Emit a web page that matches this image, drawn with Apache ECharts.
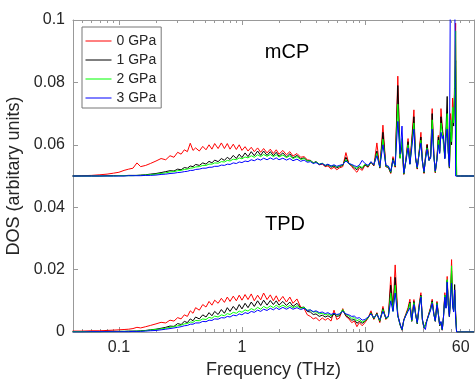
<!DOCTYPE html>
<html>
<head>
<meta charset="utf-8">
<script src="https://cdn.jsdelivr.net/npm/echarts@6.0.0/dist/echarts.min.js"></script>
<style>
html, body { margin: 0; padding: 0; background: #fff; }
#chart { width: 475px; height: 381px; }
</style>
</head>
<body>
<div id="chart"></div>
<script>
// frequency grid (THz), shared by every curve
var freq = [
  0.042, 0.05, 0.06, 0.07, 0.08, 0.09, 0.1, 0.11, 0.12, 0.13,
  0.14, 0.15, 0.165, 0.18, 0.2, 0.22, 0.24, 0.26, 0.28, 0.3,
  0.32, 0.34, 0.36, 0.38, 0.4, 0.42, 0.45, 0.48, 0.51, 0.54,
  0.57, 0.6, 0.64, 0.68, 0.72, 0.76, 0.8, 0.85, 0.9, 0.95,
  1.0, 1.06, 1.12, 1.19, 1.26, 1.34, 1.42, 1.5, 1.6, 1.7,
  1.8, 1.9, 2.0, 2.15, 2.3, 2.45, 2.6, 2.8, 3.0, 3.2,
  3.4, 3.6, 3.8, 4.0, 4.25, 4.5, 4.75, 5.0, 5.3, 5.6,
  5.9, 6.2, 6.6, 7.0, 7.4, 7.8, 8.2, 8.6, 9.0, 9.5,
  10.0, 10.6, 11.2, 11.8, 12.5, 13.2, 14.0, 14.8, 15.5, 16.2,
  16.9, 17.6, 18.5, 19.3, 20.0, 20.7, 21.5, 22.4, 23.2, 24.0,
  25.0, 25.8, 26.6, 27.6, 28.5, 29.3, 30.2, 31.0, 32.0, 33.2,
  34.2, 35.2, 36.3, 37.3, 38.5, 39.5, 40.5, 41.5, 42.5, 43.5,
  44.6, 45.6, 46.6, 47.6, 48.6, 49.6, 50.6, 51.6, 52.6, 53.6,
  54.6, 55.6, 57, 60, 65, 70, 77
];

// TPD, drawn on the 0 baseline
var tpd0 = [
  0.0003, 0.0003, 0.0004, 0.0004, 0.0005, 0.0006, 0.0007, 0.0008, 0.0009, 0.0011,
  0.0015, 0.0013, 0.0017, 0.0021, 0.0026, 0.0031, 0.0029, 0.0038, 0.0035, 0.0046,
  0.0042, 0.0055, 0.0050, 0.0068, 0.0060, 0.0078, 0.0070, 0.0088, 0.0080, 0.0098,
  0.0086, 0.0102, 0.0092, 0.0108, 0.0095, 0.0112, 0.0098, 0.0115, 0.0100, 0.0118,
  0.0102, 0.0120, 0.0104, 0.0122, 0.0100, 0.0118, 0.0103, 0.0125, 0.0104, 0.0119,
  0.0100, 0.0116, 0.0098, 0.0114, 0.0096, 0.0112, 0.0092, 0.0106, 0.0080, 0.0075,
  0.0055, 0.0050, 0.0042, 0.0046, 0.0036, 0.0045, 0.0038, 0.0044, 0.0035, 0.0070,
  0.0040, 0.0045, 0.0075, 0.0050, 0.0042, 0.0030, 0.0035, 0.0017, 0.0030, 0.0020,
  0.0030, 0.0045, 0.0068, 0.0040, 0.0062, 0.0030, 0.0082, 0.0040, 0.0050, 0.0177,
  0.0070, 0.0215, 0.0055, 0.0025, 0.0006, 0.0040, 0.0058, 0.0078, 0.0105, 0.0035,
  0.0104, 0.0060, 0.0028, 0.0090, 0.0126, 0.0040, 0.0012, 0.0006, 0.0040, 0.0062,
  0.0080, 0.0105, 0.0060, 0.0035, 0.0098, 0.0060, 0.0020, 0.0030, 0.0006, 0.0050,
  0.0126, 0.0080, 0.0178, 0.0090, 0.0050, 0.0120, 0.0232, 0.0090, 0.0070, 0.0135,
  0.0060, 0, 0, 0, 0, 0, 0
];
var tpd1 = [
  0.0001, 0.0001, 0.0001, 0.0001, 0.0002, 0.0002, 0.0002, 0.0002, 0.0003, 0.0003,
  0.0003, 0.0004, 0.0005, 0.0007, 0.0009, 0.0012, 0.0015, 0.0019, 0.0018, 0.0027,
  0.0024, 0.0034, 0.0030, 0.0042, 0.0036, 0.0048, 0.0042, 0.0055, 0.0048, 0.0062,
  0.0052, 0.0066, 0.0056, 0.0072, 0.0060, 0.0078, 0.0066, 0.0082, 0.0070, 0.0088,
  0.0074, 0.0092, 0.0078, 0.0096, 0.0082, 0.0100, 0.0085, 0.0102, 0.0086, 0.0101,
  0.0088, 0.0100, 0.0086, 0.0098, 0.0085, 0.0096, 0.0082, 0.0092, 0.0078, 0.0080,
  0.0066, 0.0064, 0.0056, 0.0058, 0.0050, 0.0054, 0.0048, 0.0052, 0.0046, 0.0058,
  0.0050, 0.0052, 0.0070, 0.0052, 0.0046, 0.0038, 0.0040, 0.0028, 0.0034, 0.0028,
  0.0034, 0.0045, 0.0062, 0.0042, 0.0060, 0.0034, 0.0075, 0.0042, 0.0048, 0.0150,
  0.0068, 0.0175, 0.0052, 0.0022, 0.0006, 0.0038, 0.0055, 0.0072, 0.0096, 0.0034,
  0.0098, 0.0058, 0.0026, 0.0085, 0.0118, 0.0038, 0.0012, 0.0006, 0.0038, 0.0060,
  0.0076, 0.0100, 0.0058, 0.0034, 0.0094, 0.0058, 0.0020, 0.0030, 0.0006, 0.0048,
  0.0118, 0.0078, 0.0165, 0.0088, 0.0048, 0.0115, 0.0195, 0.0088, 0.0068, 0.0152,
  0.0060, 0, 0, 0, 0, 0, 0
];
var tpd2 = [
  0.0001, 0.0001, 0.0001, 0.0001, 0.0001, 0.0001, 0.0002, 0.0002, 0.0002, 0.0002,
  0.0003, 0.0003, 0.0004, 0.0006, 0.0008, 0.0010, 0.0012, 0.0015, 0.0017, 0.0020,
  0.0022, 0.0026, 0.0027, 0.0032, 0.0031, 0.0037, 0.0036, 0.0042, 0.0040, 0.0047,
  0.0044, 0.0051, 0.0048, 0.0055, 0.0052, 0.0059, 0.0056, 0.0063, 0.0060, 0.0067,
  0.0063, 0.0071, 0.0067, 0.0075, 0.0070, 0.0079, 0.0073, 0.0082, 0.0076, 0.0084,
  0.0078, 0.0086, 0.0079, 0.0086, 0.0079, 0.0085, 0.0078, 0.0084, 0.0076, 0.0079,
  0.0070, 0.0070, 0.0064, 0.0065, 0.0058, 0.0060, 0.0055, 0.0058, 0.0052, 0.0060,
  0.0054, 0.0056, 0.0072, 0.0056, 0.0052, 0.0044, 0.0046, 0.0036, 0.0040, 0.0032,
  0.0036, 0.0046, 0.0060, 0.0044, 0.0058, 0.0036, 0.0072, 0.0044, 0.0048, 0.0125,
  0.0066, 0.0150, 0.0052, 0.0024, 0.0007, 0.0038, 0.0054, 0.0070, 0.0092, 0.0036,
  0.0094, 0.0058, 0.0028, 0.0082, 0.0115, 0.0040, 0.0013, 0.0007, 0.0038, 0.0058,
  0.0074, 0.0096, 0.0058, 0.0035, 0.0092, 0.0058, 0.0022, 0.0032, 0.0007, 0.0048,
  0.0118, 0.0078, 0.0168, 0.0088, 0.0050, 0.0118, 0.0212, 0.0088, 0.0066, 0.0128,
  0.0055, 0, 0, 0, 0, 0, 0
];
var tpd3 = [
  0, 0, 0.0001, 0.0001, 0.0001, 0.0001, 0.0001, 0.0001, 0.0001, 0.0002,
  0.0002, 0.0002, 0.0003, 0.0004, 0.0005, 0.0007, 0.0009, 0.0011, 0.0013, 0.0015,
  0.0017, 0.0020, 0.0021, 0.0025, 0.0025, 0.0029, 0.0029, 0.0034, 0.0033, 0.0038,
  0.0037, 0.0042, 0.0041, 0.0046, 0.0045, 0.0050, 0.0048, 0.0054, 0.0052, 0.0058,
  0.0055, 0.0062, 0.0059, 0.0066, 0.0063, 0.0070, 0.0066, 0.0073, 0.0069, 0.0076,
  0.0071, 0.0078, 0.0072, 0.0079, 0.0073, 0.0079, 0.0073, 0.0078, 0.0072, 0.0076,
  0.0069, 0.0071, 0.0065, 0.0068, 0.0062, 0.0064, 0.0059, 0.0062, 0.0056, 0.0060,
  0.0056, 0.0058, 0.0066, 0.0058, 0.0055, 0.0050, 0.0051, 0.0044, 0.0046, 0.0038,
  0.0040, 0.0048, 0.0058, 0.0046, 0.0056, 0.0040, 0.0066, 0.0046, 0.0050, 0.0100,
  0.0066, 0.0125, 0.0052, 0.0026, 0.0008, 0.0038, 0.0052, 0.0066, 0.0078, 0.0038,
  0.0088, 0.0056, 0.0030, 0.0078, 0.0112, 0.0042, 0.0015, 0.0008, 0.0040, 0.0056,
  0.0070, 0.0092, 0.0056, 0.0036, 0.0088, 0.0056, 0.0024, 0.0034, 0.0008, 0.0048,
  0.0112, 0.0076, 0.0160, 0.0086, 0.0050, 0.0110, 0.0156, 0.0084, 0.0064, 0.0135,
  0.0040, 0, 0, 0, 0, 0, 0
];

// mCP, drawn on the 0.05 baseline
var mcp0 = [
  0.0500, 0.0501, 0.0502, 0.0504, 0.0506, 0.0509, 0.0512, 0.0518, 0.0522, 0.0525,
  0.0542, 0.0530, 0.0534, 0.0540, 0.0548, 0.0556, 0.0552, 0.0565, 0.0560, 0.0576,
  0.0570, 0.0584, 0.0578, 0.0605, 0.0582, 0.0590, 0.0580, 0.0595, 0.0584, 0.0600,
  0.0586, 0.0604, 0.0588, 0.0606, 0.0588, 0.0604, 0.0586, 0.0602, 0.0585, 0.0600,
  0.0582, 0.0594, 0.0580, 0.0592, 0.0578, 0.0590, 0.0576, 0.0588, 0.0574, 0.0586,
  0.0572, 0.0584, 0.0570, 0.0582, 0.0568, 0.0578, 0.0564, 0.0572, 0.0560, 0.0562,
  0.0552, 0.0550, 0.0542, 0.0545, 0.0536, 0.0538, 0.0530, 0.0532, 0.0522, 0.0528,
  0.0520, 0.0526, 0.0530, 0.0575, 0.0540, 0.0530, 0.0520, 0.0512, 0.0525, 0.0518,
  0.0535, 0.0528, 0.0545, 0.0532, 0.0606, 0.0525, 0.0663, 0.0530, 0.0528, 0.0508,
  0.0562, 0.0528, 0.0820, 0.0560, 0.0610, 0.0505, 0.0552, 0.0620, 0.0540, 0.0535,
  0.0712, 0.0560, 0.0522, 0.0580, 0.0640, 0.0550, 0.0508, 0.0560, 0.0602, 0.0552,
  0.0565, 0.0716, 0.0572, 0.0510, 0.0560, 0.0630, 0.0580, 0.0716, 0.0660, 0.0620,
  0.0560, 0.0640, 0.0680, 0.0580, 0.0525, 0.0700, 0.0620, 0.0750, 0.0680, 0.0800,
  0.0990, 0.0500, 0.0500, 0.0500, 0.0500, 0.0500, 0.0500
];
var mcp1 = [
  0.0500, 0.0500, 0.0500, 0.0500, 0.0501, 0.0501, 0.0501, 0.0501, 0.0502, 0.0502,
  0.0502, 0.0503, 0.0504, 0.0506, 0.0508, 0.0511, 0.0514, 0.0517, 0.0516, 0.0522,
  0.0520, 0.0527, 0.0525, 0.0532, 0.0530, 0.0537, 0.0534, 0.0542, 0.0538, 0.0547,
  0.0542, 0.0551, 0.0546, 0.0556, 0.0550, 0.0560, 0.0553, 0.0566, 0.0556, 0.0570,
  0.0559, 0.0574, 0.0562, 0.0578, 0.0565, 0.0580, 0.0566, 0.0580, 0.0566, 0.0578,
  0.0565, 0.0576, 0.0563, 0.0574, 0.0561, 0.0571, 0.0558, 0.0566, 0.0555, 0.0558,
  0.0549, 0.0550, 0.0542, 0.0546, 0.0537, 0.0540, 0.0532, 0.0536, 0.0528, 0.0532,
  0.0526, 0.0530, 0.0534, 0.0560, 0.0540, 0.0534, 0.0526, 0.0520, 0.0530, 0.0524,
  0.0536, 0.0530, 0.0544, 0.0534, 0.0580, 0.0526, 0.0640, 0.0530, 0.0528, 0.0510,
  0.0556, 0.0530, 0.0790, 0.0558, 0.0600, 0.0506, 0.0550, 0.0610, 0.0538, 0.0534,
  0.0690, 0.0558, 0.0524, 0.0578, 0.0625, 0.0548, 0.0510, 0.0556, 0.0600, 0.0550,
  0.0562, 0.0700, 0.0568, 0.0512, 0.0556, 0.0625, 0.0576, 0.0690, 0.0650, 0.0615,
  0.0558, 0.0650, 0.0755, 0.0578, 0.0526, 0.0640, 0.0600, 0.0700, 0.0660, 0.0760,
  0.0870, 0.0500, 0.0500, 0.0500, 0.0500, 0.0500, 0.0500
];
var mcp2 = [
  0.0500, 0.0500, 0.0500, 0.0500, 0.0500, 0.0500, 0.0501, 0.0501, 0.0501, 0.0501,
  0.0502, 0.0502, 0.0503, 0.0504, 0.0506, 0.0508, 0.0510, 0.0513, 0.0514, 0.0517,
  0.0518, 0.0521, 0.0522, 0.0525, 0.0526, 0.0529, 0.0530, 0.0534, 0.0534, 0.0538,
  0.0538, 0.0542, 0.0541, 0.0546, 0.0545, 0.0550, 0.0548, 0.0554, 0.0552, 0.0558,
  0.0555, 0.0561, 0.0558, 0.0565, 0.0560, 0.0568, 0.0562, 0.0569, 0.0563, 0.0569,
  0.0562, 0.0568, 0.0561, 0.0567, 0.0559, 0.0565, 0.0556, 0.0562, 0.0553, 0.0556,
  0.0548, 0.0549, 0.0542, 0.0545, 0.0538, 0.0541, 0.0534, 0.0537, 0.0531, 0.0534,
  0.0529, 0.0532, 0.0536, 0.0552, 0.0540, 0.0536, 0.0530, 0.0525, 0.0532, 0.0527,
  0.0538, 0.0532, 0.0545, 0.0535, 0.0572, 0.0528, 0.0618, 0.0532, 0.0530, 0.0512,
  0.0552, 0.0532, 0.0730, 0.0556, 0.0620, 0.0508, 0.0548, 0.0600, 0.0538, 0.0534,
  0.0670, 0.0556, 0.0526, 0.0575, 0.0615, 0.0548, 0.0512, 0.0554, 0.0590, 0.0550,
  0.0560, 0.0680, 0.0566, 0.0514, 0.0554, 0.0615, 0.0574, 0.0670, 0.0640, 0.0640,
  0.0556, 0.0630, 0.0700, 0.0576, 0.0528, 0.0680, 0.0610, 0.0720, 0.0670, 0.0780,
  0.0965, 0.0500, 0.0500, 0.0500, 0.0500, 0.0500, 0.0500
];
var mcp3 = [
  0.0500, 0.0500, 0.0500, 0.0500, 0.0500, 0.0500, 0.0500, 0.0500, 0.0501, 0.0501,
  0.0501, 0.0501, 0.0502, 0.0502, 0.0503, 0.0505, 0.0506, 0.0508, 0.0509, 0.0511,
  0.0512, 0.0514, 0.0515, 0.0518, 0.0518, 0.0521, 0.0522, 0.0525, 0.0525, 0.0528,
  0.0528, 0.0531, 0.0531, 0.0535, 0.0534, 0.0538, 0.0537, 0.0542, 0.0540, 0.0545,
  0.0543, 0.0548, 0.0546, 0.0552, 0.0549, 0.0555, 0.0551, 0.0557, 0.0552, 0.0558,
  0.0553, 0.0558, 0.0552, 0.0557, 0.0551, 0.0556, 0.0549, 0.0554, 0.0547, 0.0551,
  0.0544, 0.0546, 0.0540, 0.0543, 0.0537, 0.0540, 0.0534, 0.0538, 0.0532, 0.0536,
  0.0531, 0.0534, 0.0537, 0.0548, 0.0540, 0.0537, 0.0533, 0.0530, 0.0535, 0.0550,
  0.0540, 0.0534, 0.0546, 0.0536, 0.0565, 0.0530, 0.0600, 0.0534, 0.0532, 0.0515,
  0.0550, 0.0534, 0.0675, 0.0570, 0.0660, 0.0510, 0.0546, 0.0590, 0.0538, 0.0535,
  0.0650, 0.0555, 0.0528, 0.0572, 0.0605, 0.0548, 0.0514, 0.0552, 0.0585, 0.0550,
  0.0558, 0.0650, 0.0564, 0.0516, 0.0552, 0.0600, 0.0572, 0.0640, 0.0620, 0.0630,
  0.0555, 0.0620, 0.0650, 0.0574, 0.0530, 0.1200, 0.1200, 0.1200, 0.1200, 0.1200,
  0.0500, 0.0500, 0.0500, 0.0500, 0.0500, 0.0500, 0.0500
];

var names = ['0 GPa', '1 GPa', '2 GPa', '3 GPa'];
var colors = ['#ff0000', '#000000', '#00ff00', '#0000ff'];
var xMin = 0.0423, xMax = 77;
var majorTicks = [0.1, 1, 10];
var minorTicks = [0.05, 0.06, 0.07, 0.08, 0.09, 0.2, 0.3, 0.4, 0.5, 0.6, 0.7, 0.8, 0.9,
  2, 3, 4, 5, 6, 7, 8, 9, 20, 30, 40, 50, 60, 70];
var xTickLabels = [0.1, 1, 10, 60];

var frame = '#999';
var ink = '#262626';
var lg = function (v) { return Math.log10(v); };

var myChart = echarts.init(document.getElementById('chart'));

function pairs(arr) {
  return freq.map(function (f, i) { return [f, arr[i]]; });
}

var series = [];
[tpd0, tpd1, tpd2, tpd3].forEach(function (arr, k) {
  series.push({ name: names[k], type: 'line', data: pairs(arr), symbol: 'none',
    lineStyle: { color: colors[k], width: 1 }, itemStyle: { color: colors[k] } });
});
[mcp0, mcp1, mcp2, mcp3].forEach(function (arr, k) {
  series.push({ name: names[k], type: 'line', data: pairs(arr), symbol: 'none',
    lineStyle: { color: colors[k], width: 1 }, itemStyle: { color: colors[k] } });
});

// extra value axes in log10 space, only for the MATLAB-like ticks
function tickAxis(pos, ticks, len) {
  return {
    type: 'value', position: pos, min: lg(xMin), max: lg(xMax),
    axisLine: { show: false, onZero: false }, splitLine: { show: false },
    axisTick: { show: true, inside: true, length: len, customValues: ticks.map(lg),
      lineStyle: { color: frame } },
    axisLabel: { show: false }
  };
}

var labelAxis = tickAxis('bottom', majorTicks, 5);
labelAxis.axisLabel = {
  show: true, customValues: xTickLabels.map(lg), fontSize: 16, color: ink, margin: 8,
  formatter: function (v) { return String(+Math.pow(10, v).toPrecision(3)); }
};
labelAxis.name = 'Frequency (THz)';
labelAxis.nameLocation = 'middle';
labelAxis.nameGap = 29;
labelAxis.nameTextStyle = { fontSize: 18, color: ink };

var topAxis = tickAxis('top', majorTicks, 5);
topAxis.axisLine = { show: true, onZero: false, lineStyle: { color: frame } };

var option = {
  animation: false,
  textStyle: { fontFamily: 'Liberation Sans, Arial, sans-serif' },
  grid: { left: 73, top: 20, right: 1, bottom: 49, outerBoundsMode: 'none' },
  legend: {
    data: names, orient: 'vertical', left: 82, top: 27,
    itemWidth: 26, itemHeight: 14, itemGap: 5, padding: [7, 5, 3, 3],
    borderColor: '#777', borderWidth: 1, backgroundColor: '#fff',
    itemStyle: { opacity: 0 }, lineStyle: { width: 1 },
    textStyle: { fontSize: 14, color: ink }, selectedMode: false
  },
  xAxis: [
    {
      type: 'log', logBase: 10, min: xMin, max: xMax, position: 'bottom',
      axisLine: { show: true, onZero: false, lineStyle: { color: frame } },
      axisTick: { show: false }, axisLabel: { show: false }, splitLine: { show: false }
    },
    labelAxis,
    tickAxis('bottom', minorTicks, 3),
    topAxis,
    tickAxis('top', minorTicks, 3)
  ],
  yAxis: [
    {
      type: 'value', position: 'left', min: 0, max: 0.1, interval: 0.02,
      axisLine: { show: true, onZero: false, lineStyle: { color: frame } },
      axisTick: { show: true, inside: true, length: 5, lineStyle: { color: frame } },
      axisLabel: { fontSize: 16, color: ink, margin: 8 },
      splitLine: { show: false },
      name: 'DOS (arbitary units)', nameLocation: 'middle', nameGap: 44,
      nameTextStyle: { fontSize: 18, color: ink }
    },
    {
      type: 'value', position: 'right', min: 0, max: 0.1, interval: 0.02,
      axisLine: { show: true, onZero: false, lineStyle: { color: frame } },
      axisTick: { show: true, inside: true, length: 5, lineStyle: { color: frame } },
      axisLabel: { show: false }, splitLine: { show: false }
    }
  ],
  graphic: [
    { type: 'text', x: 287, y: 52, style: { text: 'mCP', fontSize: 20, fontFamily: 'Liberation Sans', fill: '#000', align: 'center', verticalAlign: 'middle' } },
    { type: 'text', x: 285, y: 224, style: { text: 'TPD', fontSize: 20, fontFamily: 'Liberation Sans', fill: '#000', align: 'center', verticalAlign: 'middle' } }
  ],
  series: series
};

myChart.setOption(option);
</script>
</body>
</html>
